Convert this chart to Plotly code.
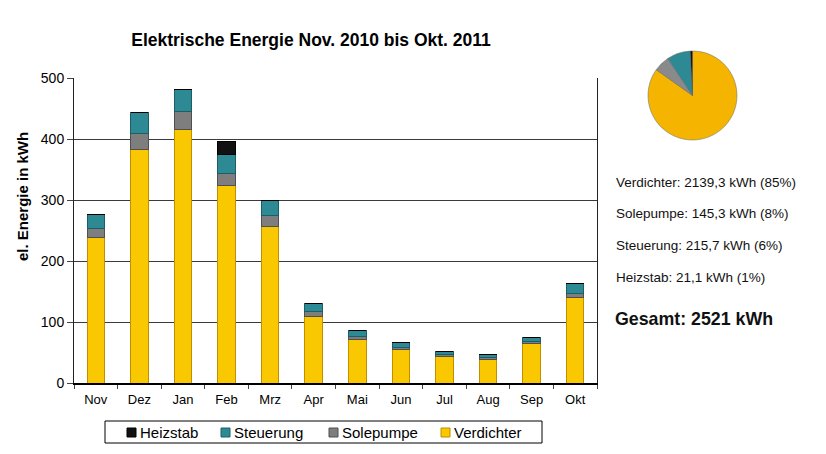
import plotly.graph_objects as go

# Monatswerte in kWh
monate = ['Nov', 'Dez', 'Jan', 'Feb', 'Mrz', 'Apr', 'Mai', 'Jun', 'Jul', 'Aug', 'Sep', 'Okt']
verdichter = [238, 383, 416, 323, 257, 109, 72, 55, 43, 39, 64, 140]
solepumpe = [16, 26, 29, 21, 18, 8, 5, 4, 3, 3, 4, 7]
steuerung = [23, 35, 36, 31, 25, 13, 9, 7, 5, 5, 7, 16]
heizstab = [0, 0, 0, 21, 0, 0, 0, 0, 0, 0, 0, 0]

# Jahressummen fuer das Kreisdiagramm
pie_labels = ['Verdichter', 'Solepumpe', 'Steuerung', 'Heizstab']
pie_values = [2139.3, 145.3, 215.7, 21.1]

summen_text = [
    'Verdichter: 2139,3 kWh (85%)',
    'Solepumpe: 145,3 kWh (8%)',
    'Steuerung: 215,7 kWh (6%)',
    'Heizstab: 21,1 kWh (1%)',
]
gesamt_text = 'Gesamt: 2521 kWh'

FONT = 'Liberation Sans, Arial, sans-serif'
# Seite hat 8px Rand -> Figur etwas kleiner, Positionen in Fensterpixeln
RAND = 8
W, H = 826 - RAND, 454 - RAND


def px(x):
    return (x - RAND) / W


def py(y):
    return 1 - (y - RAND) / H


farben = {
    'Verdichter': '#FAC800',
    'Solepumpe': '#7E7E7E',
    'Steuerung': '#2D8A95',
    'Heizstab': '#111111',
}
rand = {
    'Verdichter': '#C08E00',
    'Solepumpe': '#505050',
    'Steuerung': '#1C5E66',
    'Heizstab': '#000000',
}

fig = go.Figure()

for name, werte in [('Verdichter', verdichter), ('Solepumpe', solepumpe),
                    ('Steuerung', steuerung), ('Heizstab', heizstab)]:
    fig.add_trace(go.Bar(
        x=monate, y=werte, name=name, width=0.4, showlegend=False,
        marker=dict(color=farben[name], line=dict(color=rand[name], width=1)),
    ))

pie_farben = ['#F5B400', '#8A8A8A', '#2D8A95', '#111111']
fig.add_trace(go.Pie(
    labels=pie_labels, values=pie_values, sort=False, direction='clockwise',
    rotation=0, textinfo='none', showlegend=False,
    marker=dict(colors=pie_farben, line=dict(color='#666666', width=0.5)),
    domain=dict(x=[px(648), px(737)], y=[py(140), py(51)]),
))

annotations = []
for i, t in enumerate(summen_text):
    annotations.append(dict(
        text=t, x=px(614), y=py(182 + i * 31.7), xref='paper', yref='paper',
        xanchor='left', yanchor='middle', showarrow=False,
        font=dict(family=FONT, size=13.5, color='#111111'),
    ))
annotations.append(dict(
    text='<b>' + gesamt_text + '</b>', x=px(613), y=py(319), xref='paper', yref='paper',
    xanchor='left', yanchor='middle', showarrow=False,
    font=dict(family=FONT, size=17.8, color='#111111'),
))
# Achsentitel
annotations.append(dict(
    text='<b>el. Energie in kWh</b>', x=px(22), y=py(197), xref='paper', yref='paper',
    xanchor='center', yanchor='middle', textangle=-90, showarrow=False,
    font=dict(family=FONT, size=15, color='black'),
))

# Legende (Kasten mit Eintraegen)
shapes = [dict(type='rect', xref='paper', yref='paper',
               x0=px(105), x1=px(542), y0=py(443), y1=py(421),
               line=dict(color='black', width=1), fillcolor='white')]
legende = [('Heizstab', 127), ('Steuerung', 221), ('Solepumpe', 329), ('Verdichter', 441)]
for name, lx in legende:
    shapes.append(dict(type='rect', xref='paper', yref='paper',
                       x0=px(lx), x1=px(lx + 9), y0=py(437), y1=py(428),
                       line=dict(color=rand[name], width=1), fillcolor=farben[name]))
    annotations.append(dict(
        text=name, x=px(lx + 11), y=py(432), xref='paper', yref='paper',
        xanchor='left', yanchor='middle', showarrow=False,
        font=dict(family=FONT, size=15, color='black'),
    ))

fig.update_layout(
    width=W, height=H,
    barmode='stack',
    paper_bgcolor='white', plot_bgcolor='white',
    margin=dict(l=0, r=0, t=0, b=0, autoexpand=False),
    font=dict(family=FONT, size=13, color='black'),
    title=dict(text='<b>Elektrische Energie Nov. 2010 bis Okt. 2011</b>',
               x=px(311), y=py(40), xanchor='center', yanchor='middle',
               font=dict(family=FONT, size=17.5, color='black')),
    xaxis=dict(domain=[px(74), px(597)], automargin=False, showline=True,
               linecolor='black', linewidth=2, ticks='outside', ticklen=4,
               tickson='boundaries', tickcolor='#444444', tickfont=dict(size=13),
               ticklabelstandoff=3),
    yaxis=dict(domain=[py(383), py(78)], automargin=False, range=[0, 500],
               dtick=100, showline=True, linecolor='#222222', linewidth=1, mirror=True,
               gridcolor='#3a3a3a', gridwidth=1, ticks='outside', ticklen=6,
               tickcolor='#444444', tickfont=dict(size=14), zeroline=False),
    annotations=annotations,
    shapes=shapes,
)

fig.write_html('out.html')
